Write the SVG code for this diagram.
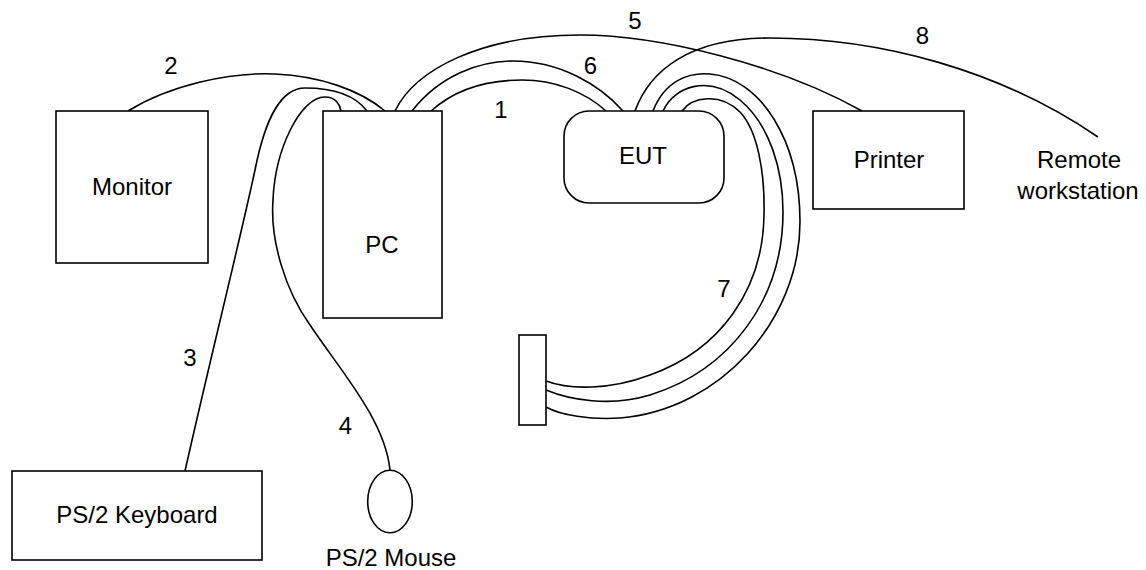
<svg xmlns="http://www.w3.org/2000/svg" width="1146" height="570" viewBox="0 0 1146 570">
<style>
.box{fill:#fff;stroke:#000;stroke-width:1.6}
.cable{fill:none;stroke:#000;stroke-width:1.6}
text{font-family:"Liberation Sans",Arial,sans-serif;font-size:24px;fill:#000;text-anchor:middle}
</style>
<rect width="1146" height="570" fill="#fff"/>
<g id="connectors">
<path id="c2" class="cable" d="M128,111 C170,85 230,72 275,74 C320,76 360,90 385,111"/>
<path id="c3" class="cable" d="M185,471 C210,360 240,240 255,170 C265,120 280,88 305,88 C335,88 355,95 367,111"/>
<path id="c4" class="cable" d="M390,470 C385,420 340,370 310,325 C285,290 270,240 273,200 C275,150 300,97 325,97 C336,97 340,105 341,111"/>
<path id="c1" class="cable" d="M431,111 C460,85 495,80 522,80 C555,80 585,92 606,111"/>
<path id="c6" class="cable" d="M412,111 C440,75 480,61 513,61 C560,61 600,85 623,111"/>
<path id="c5" class="cable" d="M395,111 C415,70 480,35 580,35 C660,35 780,65 862,111"/>
<path id="c8" class="cable" d="M635,111 C650,70 690,38 770,38 C880,38 1000,70 1098,137"/>
<path id="c7a" class="cable" d="M682,111 C692,97 720,92 740,112 C757,130 765,170 764,215 C763,290 720,350 650,375 C610,390 570,390 546,381"/>
<path id="c7b" class="cable" d="M663,111 C675,85 710,75 740,100 C770,125 783,170 783,212 C783,300 730,370 650,395 C610,407 570,400 546,390"/>
<path id="c7c" class="cable" d="M653,111 C665,80 690,72 710,74 C760,78 800,140 800,222 C800,320 720,410 620,418 C590,420 560,415 546,407"/>
<text x="171" y="74">2</text>
<text x="190" y="366">3</text>
<text x="345.5" y="434">4</text>
<text x="501" y="118">1</text>
<text x="590.5" y="74">6</text>
<text x="635" y="29">5</text>
<text x="724" y="297">7</text>
<text x="922.5" y="44">8</text>
</g>
<g id="monitor"><rect class="box" x="56" y="111" width="152" height="152"/><text x="132" y="195">Monitor</text></g>
<g id="pc"><rect class="box" x="323" y="111" width="119" height="207"/><text x="382" y="253">PC</text></g>
<g id="eut"><rect class="box" x="564" y="111" width="160" height="92" rx="25" ry="25"/><text x="643" y="164">EUT</text></g>
<g id="printer"><rect class="box" x="813" y="111" width="151" height="98"/><text x="889" y="168">Printer</text></g>
<g id="remote"><text x="1079" y="168">Remote</text><text x="1078" y="199">workstation</text></g>
<g id="connector-block"><rect class="box" x="519" y="335" width="27" height="90"/></g>
<g id="keyboard"><rect class="box" x="12" y="471" width="250" height="89"/><text x="137" y="523">PS/2 Keyboard</text></g>
<g id="mouse"><ellipse class="box" cx="390" cy="501.5" rx="22.3" ry="31.3"/><text x="391" y="566">PS/2 Mouse</text></g>
</svg>
